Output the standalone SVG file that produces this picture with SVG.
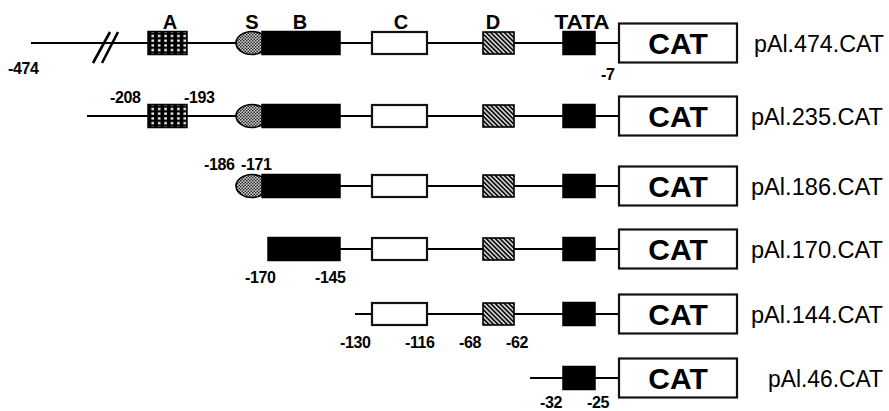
<svg xmlns="http://www.w3.org/2000/svg" xmlns:xlink="http://www.w3.org/1999/xlink" width="889" height="411" viewBox="0 0 889 411">
  <style>
    .dna { stroke: #000; stroke-width: 2.2; fill: none; }
    .brk { stroke: #000; stroke-width: 2.6; fill: none; }
    .solid { fill: #000; stroke: #000; stroke-width: 1.5; }
    .open { fill: #fff; stroke: #111; stroke-width: 2.2; }
    .cat { fill: #fff; stroke: #111; stroke-width: 2.2; }
    .catlbl { font-family: "Liberation Sans", Arial, sans-serif; font-weight: bold; font-size: 30px; text-anchor: middle; fill: #000; }
    .name { font-family: "Liberation Sans", Arial, sans-serif; font-size: 23px; fill: #000; }
    .pos { font-family: "Liberation Sans", Arial, sans-serif; font-weight: bold; font-size: 16px; fill: #000; letter-spacing: -0.4px; }
    .elt { font-family: "Liberation Sans", Arial, sans-serif; font-weight: bold; font-size: 20px; text-anchor: middle; fill: #000; }
  </style>
  <defs>
    <!-- element A: white dots on black -->
    <pattern id="grid" width="6.4" height="4.7" patternUnits="userSpaceOnUse" x="149.5" y="0">
      <rect width="6.4" height="4.7" fill="#000"/>
      <rect x="2" y="1.3" width="2.6" height="2.2" fill="#fff"/>
    </pattern>
    <!-- element S: fine stipple -->
    <pattern id="stipple" width="3" height="3" patternUnits="userSpaceOnUse">
      <rect width="3" height="3" fill="#d0d0d0"/>
      <circle cx="0.75" cy="0.75" r="0.85" fill="#222"/>
      <circle cx="2.25" cy="2.25" r="0.85" fill="#222"/>
    </pattern>
    <!-- element D: diagonal hatching -->
    <pattern id="hatch" width="3.2" height="3.2" patternUnits="userSpaceOnUse" patternTransform="rotate(45)">
      <rect width="3.2" height="3.2" fill="#cfcfcf"/>
      <line x1="0" y1="0.8" x2="3.2" y2="0.8" stroke="#000" stroke-width="1.5"/>
    </pattern>

    <!-- element shapes, drawn about the DNA line at y = 0 -->
    <rect id="elA" x="148" y="-11.5" width="39" height="23" fill="url(#grid)" stroke="#000" stroke-width="1.5"/>
    <ellipse id="elS" cx="252" cy="0" rx="16" ry="11.5" fill="url(#stipple)" stroke="#000" stroke-width="1.6"/>
    <rect id="elB" x="262" y="-11.5" width="78" height="23" class="solid"/>
    <rect id="elC" x="372" y="-11" width="55" height="22" class="open"/>
    <rect id="elD" x="483" y="-11" width="31" height="22" fill="url(#hatch)" stroke="#000" stroke-width="1.6"/>
    <rect id="elT" x="563" y="-11.5" width="32" height="23" class="solid"/>
    <g id="elCAT">
      <rect x="619" y="-19.5" width="118" height="39" class="cat"/>
      <text x="678" y="11" class="catlbl">CAT</text>
    </g>
  </defs>

  <!-- DNA lines -->
  <g id="connectors">
    <line class="dna" x1="31" y1="43" x2="619" y2="43"/>
    <line class="brk" x1="93" y1="63" x2="110" y2="32"/>
    <line class="brk" x1="102" y1="63" x2="118" y2="32"/>
    <line class="dna" x1="87" y1="116" x2="619" y2="116"/>
    <line class="dna" x1="250" y1="186" x2="619" y2="186"/>
    <line class="dna" x1="280" y1="249" x2="619" y2="249"/>
    <line class="dna" x1="355" y1="314" x2="619" y2="314"/>
    <line class="dna" x1="530" y1="378" x2="619" y2="378"/>
  </g>

  <!-- element names -->
  <g id="element-names">
    <text class="elt" x="170" y="29">A</text>
    <text class="elt" x="252" y="29">S</text>
    <text class="elt" x="300" y="29">B</text>
    <text class="elt" x="401" y="29">C</text>
    <text class="elt" x="493" y="29">D</text>
    <text class="elt" x="582" y="29" textLength="55" lengthAdjust="spacingAndGlyphs">TATA</text>
  </g>

  <g id="pAl474" transform="translate(0,43)">
    <use xlink:href="#elA"/>
    <use xlink:href="#elS"/>
    <use xlink:href="#elB"/>
    <use xlink:href="#elC"/>
    <use xlink:href="#elD"/>
    <use xlink:href="#elT"/>
    <use xlink:href="#elCAT"/>
    <text class="pos" x="8" y="31">-474</text>
    <text class="pos" x="601" y="37">-7</text>
    <text class="name" x="754" y="8.5" textLength="130" lengthAdjust="spacingAndGlyphs">pAl.474.CAT</text>
  </g>

  <g id="pAl235" transform="translate(0,116)">
    <use xlink:href="#elA"/>
    <use xlink:href="#elS"/>
    <use xlink:href="#elB"/>
    <use xlink:href="#elC"/>
    <use xlink:href="#elD"/>
    <use xlink:href="#elT"/>
    <use xlink:href="#elCAT"/>
    <text class="pos" x="110" y="-13">-208</text>
    <text class="pos" x="184" y="-13">-193</text>
    <text class="name" x="751" y="8.5" textLength="132" lengthAdjust="spacingAndGlyphs">pAl.235.CAT</text>
  </g>

  <g id="pAl186" transform="translate(0,186)">
    <use xlink:href="#elS"/>
    <use xlink:href="#elB"/>
    <use xlink:href="#elC"/>
    <use xlink:href="#elD"/>
    <use xlink:href="#elT"/>
    <use xlink:href="#elCAT"/>
    <text class="pos" x="204" y="-16">-186</text>
    <text class="pos" x="241" y="-16">-171</text>
    <text class="name" x="751" y="8.5" textLength="132" lengthAdjust="spacingAndGlyphs">pAl.186.CAT</text>
  </g>

  <g id="pAl170" transform="translate(0,249)">
    <rect x="268" y="-11.5" width="72" height="23" class="solid"/>
    <use xlink:href="#elC"/>
    <use xlink:href="#elD"/>
    <use xlink:href="#elT"/>
    <use xlink:href="#elCAT"/>
    <text class="pos" x="245" y="34">-170</text>
    <text class="pos" x="315" y="34">-145</text>
    <text class="name" x="751" y="8.5" textLength="132" lengthAdjust="spacingAndGlyphs">pAl.170.CAT</text>
  </g>

  <g id="pAl144" transform="translate(0,314)">
    <use xlink:href="#elC"/>
    <use xlink:href="#elD"/>
    <use xlink:href="#elT"/>
    <use xlink:href="#elCAT"/>
    <text class="pos" x="340" y="34">-130</text>
    <text class="pos" x="405" y="34">-116</text>
    <text class="pos" x="459" y="34">-68</text>
    <text class="pos" x="506" y="34">-62</text>
    <text class="name" x="751" y="8.5" textLength="132" lengthAdjust="spacingAndGlyphs">pAl.144.CAT</text>
  </g>

  <g id="pAl46" transform="translate(0,378)">
    <use xlink:href="#elT"/>
    <use xlink:href="#elCAT"/>
    <text class="pos" x="540" y="30">-32</text>
    <text class="pos" x="587" y="30">-25</text>
    <text class="name" x="768" y="8.5" textLength="115" lengthAdjust="spacingAndGlyphs">pAl.46.CAT</text>
  </g>
</svg>
